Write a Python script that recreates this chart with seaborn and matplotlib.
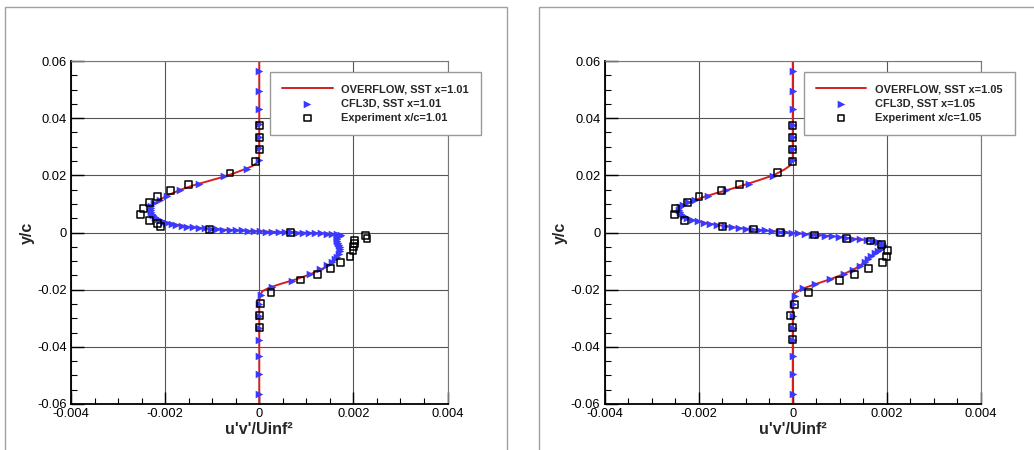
import numpy as np
import pandas as pd
import seaborn as sns
import matplotlib.pyplot as plt
from matplotlib.patches import Rectangle
from matplotlib.ticker import MultipleLocator, FuncFormatter

# station labels
stations = ['1.01', '1.05']

# experiment, x/c=1.01
exp1_x = [0, 0, 0, -0.00008, -0.00062, -0.0015, -0.00188, -0.00216, -0.00233, -0.00246,
          -0.00253, -0.00233, -0.00217, -0.0021, -0.00106, 0.00067, 0.00226, 0.00229,
          0.00203, 0.00203, 0.002, 0.00199, 0.00193, 0.00173, 0.00151, 0.00124, 0.00088,
          0.00025, 0.00002, 0, 0]
exp1_y = [0.0375, 0.0333, 0.0291, 0.0249, 0.0208, 0.0167, 0.0146, 0.0125, 0.0104, 0.0083,
          0.0064, 0.0043, 0.0032, 0.0020, 0.0011, 0.0001, -0.0010, -0.0020,
          -0.0029, -0.0039, -0.0050, -0.0064, -0.0085, -0.0104, -0.0125, -0.0146, -0.0166,
          -0.0209, -0.0249, -0.0291, -0.0333]

# experiment, x/c=1.05
exp2_x = [0, -0.00001, 0, 0, -0.00033, -0.00114, -0.00151, -0.00199, -0.00223, -0.00249,
          -0.00251, -0.0023, -0.00149, -0.00083, -0.00026, 0.00047, 0.00114, 0.00165,
          0.00189, 0.00202, 0.00199, 0.00191, 0.00161, 0.00132, 0.00099, 0.00033, 0.00004,
          -0.00004, 0, 0]
exp2_y = [0.0375, 0.0333, 0.0291, 0.0249, 0.0209, 0.0167, 0.0147, 0.0126, 0.0105, 0.0084,
          0.0063, 0.0042, 0.0021, 0.0012, 0.0000, -0.0009, -0.0021, -0.0030,
          -0.0042, -0.0063, -0.0084, -0.0104, -0.0125, -0.0146, -0.0167, -0.0209, -0.0251,
          -0.0291, -0.0333, -0.0375]

# CFL3D SST, x=1.01
cfl1_x = [0, 0, 0, 0, 0, 0, 0, -0.00025, -0.00075, -0.00129, -0.00169, -0.00196, -0.00211,
          -0.00223, -0.00229, -0.00231, -0.00231, -0.0023, -0.00228, -0.00225, -0.00221,
          -0.00216, -0.0021, -0.00203, -0.00195, -0.00186, -0.00176, -0.00165, -0.00153,
          -0.00141, -0.00128, -0.00115, -0.00102, -0.00089, -0.00076, -0.00063, -0.0005,
          -0.00037, -0.00024, -0.00011, 0.00002, 0.00015, 0.00028, 0.00041, 0.00054,
          0.00067, 0.0008, 0.00093, 0.00106, 0.00119, 0.00132, 0.00144, 0.00155, 0.00165,
          0.00173, 0.00172, 0.00166, 0.00165, 0.00166, 0.00168, 0.0017, 0.00171, 0.00172,
          0.00171, 0.00169, 0.00166, 0.00161, 0.00154, 0.00145, 0.0013, 0.00108, 0.0007,
          0.00028, 0.00003, 0, 0, 0, 0, 0, 0, 0]
cfl1_y = [0.0566, 0.0494, 0.0432, 0.0378, 0.0334, 0.0294, 0.0254, 0.0223, 0.0196, 0.0171,
          0.0148, 0.0129, 0.0114, 0.0103, 0.0094, 0.0087, 0.0080, 0.0073, 0.0066, 0.0060,
          0.0054, 0.0048, 0.0043, 0.0038, 0.0034, 0.0030, 0.0026, 0.0023, 0.0020, 0.0018,
          0.0016, 0.0014, 0.0012, 0.0011, 0.0010, 0.0009, 0.0008, 0.0007, 0.0006, 0.0005,
          0.0004, 0.0003, 0.0003, 0.0002, 0.0001, 0.0001, 0.0000, -0.0001, -0.0001, -0.0002,
          -0.0003, -0.0004, -0.0005, -0.0006, -0.0008, -0.0012, -0.0017, -0.0023, -0.0029,
          -0.0036, -0.0043, -0.0050, -0.0058, -0.0066, -0.0075, -0.0084, -0.0094, -0.0104,
          -0.0115, -0.0128, -0.0146, -0.0169, -0.0189, -0.0218, -0.0250, -0.0292, -0.0334,
          -0.0376, -0.0431, -0.0494, -0.0564]

# CFL3D SST, x=1.05
cfl2_x = [0, 0, 0, 0, 0, 0, 0, -0.00043, -0.00092, -0.00142, -0.00181, -0.00207, -0.00222,
          -0.00233, -0.00239, -0.00241, -0.0024, -0.00237, -0.00232, -0.00224, -0.00214,
          -0.00202, -0.00189, -0.00175, -0.0016, -0.00145, -0.0013, -0.00115, -0.001,
          -0.00086, -0.00072, -0.00058, -0.00044, -0.0003, -0.00016, -0.00002, 0.00012,
          0.00026, 0.0004, 0.00054, 0.00068, 0.00083, 0.00098, 0.00113, 0.00128, 0.00143,
          0.00157, 0.0017, 0.00181, 0.00189, 0.00193, 0.00192, 0.00187, 0.00181, 0.00174,
          0.00167, 0.0016, 0.00153, 0.00143, 0.00128, 0.00108, 0.0008, 0.00048, 0.00022,
          0.00004, 0, 0, 0, 0, 0, 0, 0]
cfl2_y = [0.0566, 0.0494, 0.0432, 0.0377, 0.0333, 0.0292, 0.0252, 0.0196, 0.0171, 0.0147,
          0.0129, 0.0114, 0.0105, 0.0096, 0.0088, 0.0080, 0.0072, 0.0064, 0.0057, 0.0050,
          0.0044, 0.0039, 0.0034, 0.0030, 0.0026, 0.0022, 0.0019, 0.0016, 0.0013, 0.0011,
          0.0009, 0.0007, 0.0005, 0.0003, 0.0001, -0.0001, -0.0003, -0.0005, -0.0007,
          -0.0009, -0.0011, -0.0013, -0.0015, -0.0018, -0.0021, -0.0024, -0.0027, -0.0030,
          -0.0034, -0.0038, -0.0043, -0.0049, -0.0056, -0.0064, -0.0073, -0.0083, -0.0093,
          -0.0104, -0.0116, -0.0130, -0.0146, -0.0163, -0.0180, -0.0195, -0.0221, -0.0250,
          -0.0292, -0.0333, -0.0376, -0.0431, -0.0494, -0.0564]

# OVERFLOW SST, x=1.01
ovf1_x = [0, 0, 0, 0, -0.00004, -0.00015, -0.0003, -0.00054, -0.0008, -0.0011, -0.0014,
          -0.00168, -0.00192, -0.0021, -0.00223, -0.0023, -0.00231, -0.00229, -0.00224,
          -0.00215, -0.002, -0.00178, -0.0015, -0.00115, -0.00076, -0.00037, 0.00002,
          0.00041, 0.0008, 0.00119, 0.0015, 0.00172, 0.00167, 0.00166, 0.0017, 0.00172,
          0.0017, 0.00163, 0.00152, 0.00135, 0.0011, 0.00078, 0.00045, 0.0002, 0.00007,
          0.00002, 0, 0, 0, 0]
ovf1_y = [0.06, 0.04, 0.03, 0.0265, 0.0245, 0.0232, 0.0222, 0.0207, 0.0193, 0.0179, 0.0165,
          0.0149, 0.0132, 0.0116, 0.0102, 0.0088, 0.0078, 0.0067, 0.0057, 0.0047, 0.0037,
          0.0028, 0.0020, 0.0014, 0.0010, 0.0007, 0.0004, 0.0002, 0.0000, -0.0002, -0.0004,
          -0.0008, -0.0016, -0.0028, -0.0045, -0.0060, -0.0076, -0.0093, -0.0110, -0.0126,
          -0.0145, -0.0164, -0.0180, -0.0194, -0.0205, -0.0218, -0.024, -0.03, -0.04, -0.06]

# OVERFLOW SST, x=1.05
ovf2_x = [0, 0, 0, 0, -0.00005, -0.00018, -0.0004, -0.0007, -0.001, -0.0013, -0.0016,
          -0.00188, -0.0021, -0.00227, -0.00237, -0.00241, -0.00239, -0.00233, -0.00222,
          -0.00205, -0.0018, -0.0015, -0.00115, -0.0008, -0.00044, -0.00009, 0.00026,
          0.00062, 0.00098, 0.00133, 0.00163, 0.00184, 0.00193, 0.0019, 0.00181, 0.00167,
          0.00153, 0.00135, 0.00108, 0.00075, 0.00042, 0.00017, 0.00004, 0, 0, 0, 0]
ovf2_y = [0.06, 0.04, 0.03, 0.0255, 0.0235, 0.022, 0.0201, 0.0184, 0.0168, 0.0153, 0.0139,
          0.0125, 0.0112, 0.0099, 0.0087, 0.0076, 0.0066, 0.0057, 0.0049, 0.0040, 0.0032,
          0.0024, 0.0016, 0.0010, 0.0005, 0.0000, -0.0005, -0.0010, -0.0015, -0.0022,
          -0.0028, -0.0035, -0.0042, -0.0052, -0.0064, -0.0083, -0.0104, -0.0124, -0.0146,
          -0.0166, -0.0184, -0.0199, -0.0213, -0.0235, -0.03, -0.04, -0.06]

panels = [
    (ovf1_x, ovf1_y, cfl1_x, cfl1_y, exp1_x, exp1_y),
    (ovf2_x, ovf2_y, cfl2_x, cfl2_y, exp2_x, exp2_y),
]

sns.set_theme(style='white')
plt.rcParams['font.family'] = ['Liberation Sans', 'DejaVu Sans']

fig = plt.figure(figsize=(10.34, 4.5), dpi=100)

# panel frames
fig.patches.append(Rectangle((5 / 1034, -0.05), 502 / 1034, 1 - 7 / 450 + 0.05,
                             transform=fig.transFigure, fill=False, ec='#a0a0a0', lw=1))
fig.patches.append(Rectangle((539 / 1034, -0.05), 0.6, 1 - 7 / 450 + 0.05,
                             transform=fig.transFigure, fill=False, ec='#a0a0a0', lw=1))

lefts = [71 / 1034, 604.5 / 1034]
for i, (ox, oy, cx, cy, ex, ey) in enumerate(panels):
    ax = fig.add_axes([lefts[i], 1 - 404 / 450, 376.5 / 1034, 343 / 450])
    st = stations[i]
    sns.lineplot(x=ox, y=oy, sort=False, estimator=None, color='#d42020', lw=1.4,
                 label=f'OVERFLOW, SST x={st}', ax=ax, zorder=2)
    sns.scatterplot(x=cx, y=cy, marker='>', color='#3a3aff', edgecolor='#3a3aff',
                    s=30, linewidth=0, label=f'CFL3D, SST x={st}', ax=ax, zorder=3)
    sns.scatterplot(x=ex, y=ey, marker='s', facecolor='none', edgecolor='black',
                    s=24, linewidth=1.1, label=f'Experiment x/c={st}', ax=ax, zorder=4)

    ax.set_xlim(-0.004, 0.004)
    ax.set_ylim(-0.06, 0.06)
    ax.xaxis.set_major_locator(MultipleLocator(0.002))
    ax.xaxis.set_minor_locator(MultipleLocator(0.0005))
    ax.yaxis.set_major_locator(MultipleLocator(0.02))
    ax.yaxis.set_minor_locator(MultipleLocator(0.005))
    fmt = FuncFormatter(lambda v, p: f'{round(v, 6):g}')
    ax.xaxis.set_major_formatter(fmt)
    ax.yaxis.set_major_formatter(fmt)
    ax.tick_params(which='both', direction='in', left=True, bottom=True, top=False,
                   right=False, colors='black', labelsize=9.3)
    ax.tick_params(which='major', length=9, width=1.0, pad=3)
    ax.tick_params(which='minor', length=4.5, width=0.8)
    ax.grid(True, which='major', color='#555555', lw=0.8)
    for s in ['left', 'bottom']:
        ax.spines[s].set_color('black')
        ax.spines[s].set_linewidth(1.3)
    for s in ['top', 'right']:
        ax.spines[s].set_color('#777777')
        ax.spines[s].set_linewidth(0.8)
    ax.set_xlabel("u'v'/Uinf²", fontsize=11.5, fontweight='bold', labelpad=1)
    ax.set_ylabel('y/c', fontsize=11.5, fontweight='bold', labelpad=2)

    leg = ax.legend(loc='upper left', bbox_to_anchor=(0.529, 0.968), borderaxespad=0,
                    prop={'weight': 'bold', 'size': 7.9}, frameon=True, fancybox=False,
                    edgecolor='#999999', framealpha=1, handlelength=4.6,
                    handletextpad=0.8, labelspacing=0.4, borderpad=1.1, scatterpoints=1)
    leg.get_frame().set_linewidth(1.0)

fig.savefig('out.png', dpi=100)
